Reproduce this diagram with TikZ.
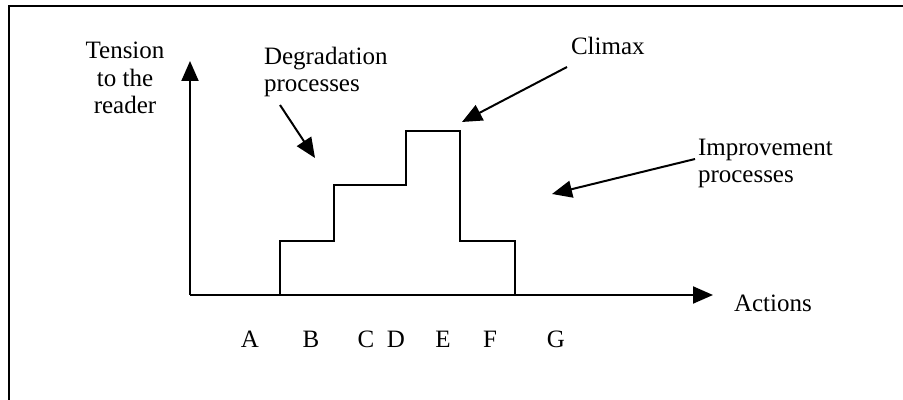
\documentclass[tikz,border=0pt]{standalone}
\usepackage{fontspec}
\setmainfont{Liberation Serif}
\usetikzlibrary{arrows.meta}
\begin{document}
\begin{tikzpicture}[x=0.5pt,y=-0.5pt,line width=1pt,
  lbl/.style={inner sep=0pt,font=\fontsize{12.5}{13.75}\selectfont},
  arr/.style={-{Triangle[length=10pt,width=8.5pt]}}]
\useasboundingbox (0,0) rectangle (903,400);
% frame
\draw (9,400) -- (9,6) -- (903,6);
% axes
\coordinate (O) at (190,295);
\coordinate (ytip) at (190,61);
\coordinate (xtip) at (713,295);
\draw[arr] (O) -- (ytip);
\draw[arr] (O) -- (xtip);
% staircase
\coordinate (s0) at (280,295);
\coordinate (s1) at (280,241);
\coordinate (s2) at (334,241);
\coordinate (s3) at (334,185);
\coordinate (s4) at (406,185);
\coordinate (s5) at (406,131);
\coordinate (s6) at (460,131);
\coordinate (s7) at (460,241);
\coordinate (s8) at (515,241);
\coordinate (s9) at (515,295);
\draw (s0) -- (s1) -- (s2) -- (s3) -- (s4) -- (s5) -- (s6) -- (s7) -- (s8) -- (s9);
% labels (base anchor = baseline of last line)
\node[lbl,align=center,anchor=base] (tension) at (125,114) {Tension\\to the\\reader};
\node[lbl,align=left,anchor=base west] (degr) at (263,92) {Degradation\\processes};
\node[lbl,anchor=base west] (climax) at (570,55) {Climax};
\node[lbl,align=left,anchor=base west] (impr) at (697,183) {Improvement\\processes};
\node[lbl,anchor=base west] (actions) at (733,311) {Actions};
\node[lbl,anchor=base] (A) at (250,347) {A};
\node[lbl,anchor=base] (B) at (311,347) {B};
\node[lbl,anchor=base] (C) at (366,347) {C};
\node[lbl,anchor=base] (D) at (396,347) {D};
\node[lbl,anchor=base] (E) at (443,347) {E};
\node[lbl,anchor=base] (F) at (490,347) {F};
\node[lbl,anchor=base] (G) at (556,347) {G};
% pointer arrows
\coordinate (d1) at (280,105);
\coordinate (d2) at (315,158);
\coordinate (c1) at (567,67);
\coordinate (c2) at (462,122);
\coordinate (i1) at (695,159);
\coordinate (i2) at (552,194);
\draw[arr] (d1) -- (d2);
\draw[arr] (c1) -- (c2);
\draw[arr] (i1) -- (i2);
\end{tikzpicture}
\end{document}
